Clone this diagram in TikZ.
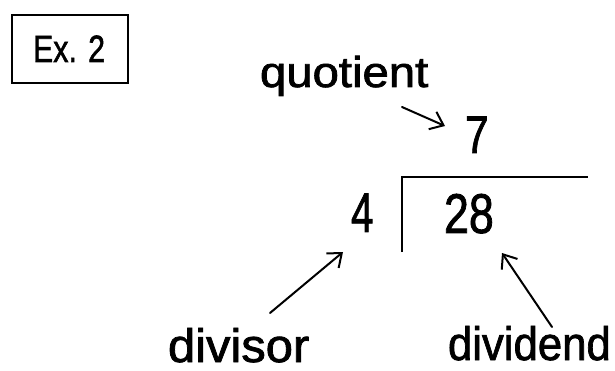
\documentclass[tikz,border=0pt]{standalone}
\usepackage{fontspec}
\usepackage{graphicx}
\setmainfont{Liberation Sans}[FakeBold=1.6]
\usetikzlibrary{arrows.meta}
\newcommand{\fsz}[1]{\fontsize{#1}{#1}\selectfont}
\begin{document}
\begin{tikzpicture}[x=1pt,y=-1pt,
  txt/.style={anchor=base west,inner sep=0pt,outer sep=0pt},
  pointer/.style={line width=2pt,line cap=round,-{Straight Barb[length=12pt,width=19pt,line width=2pt]}},
  bracket/.style={line width=2pt},
  exbox/.style={draw,line width=1.5pt,inner sep=0pt,minimum width=116pt,minimum height=68pt}]
\useasboundingbox (0,0) rectangle (615,371);
\fill[white] (0,0) rectangle (615,371);
% example box
\node[exbox] (box) at (70,49) {};
\node[txt,font=\fsz{38}] (ex) at (33,62) {\scalebox{0.8}[1]{Ex. 2}};
% labels
\node[txt,font=\fsz{43}] (quot) at (260,87) {\scalebox{1.1}[1]{quotient}};
\node[txt,font=\fsz{47}] (divisor) at (168,362) {\scalebox{1.04}[1]{divisor}};
\node[txt,font=\fsz{47}] (dividend) at (448,360) {\scalebox{0.93}[1]{dividend}};
% numbers
\node[txt,font=\fsz{53}] (seven) at (465,153) {\scalebox{0.8}[1]{7}};
\node[txt,font=\fsz{56}] (four) at (351,232) {\scalebox{0.72}[1]{4}};
\node[txt,font=\fsz{56}] (tw8) at (444,233) {\scalebox{0.8}[1]{28}};
% division bracket
\coordinate (brb) at (402,252);
\coordinate (brc) at (402,177);
\coordinate (brr) at (588,177);
\draw[bracket] (brb) -- (brc) -- (brr);
% arrow ends
\coordinate (qa) at (402,107);
\coordinate (qb) at (445,126);
\coordinate (da) at (270,313);
\coordinate (db) at (343,252);
\coordinate (va) at (552,327);
\coordinate (vb) at (502,253);
\draw[pointer] (qa) -- (qb);
\draw[pointer] (da) -- (db);
\draw[pointer] (va) -- (vb);
\end{tikzpicture}
\end{document}
